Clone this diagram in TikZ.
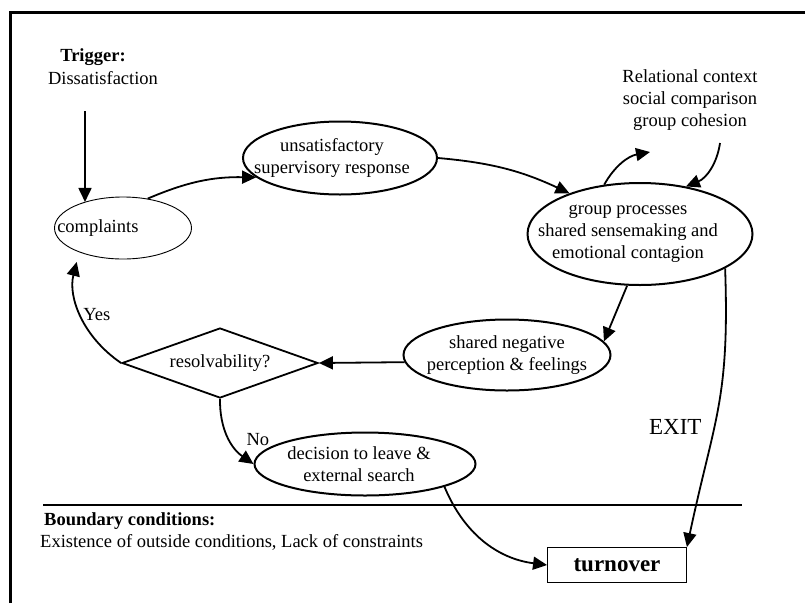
\documentclass[tikz,border=0pt]{standalone}
\usepackage{fontspec}
\setmainfont{Liberation Serif}
\usetikzlibrary{shapes.geometric,arrows.meta}

\tikzset{
  oval/.style={draw, ellipse, line width=2pt, inner sep=0pt},
  txt/.style={align=center, inner sep=1pt},
  flow/.style={-{Triangle[length=14pt,width=13pt]}, line width=1.8pt},
}

\begin{document}
\fontsize{18.5}{22}\selectfont
\begin{tikzpicture}[x=1pt,y=-1pt]
\useasboundingbox (0,0) rectangle (805,603);
\draw[line width=3pt] (10,603) -- (10,12) -- (805,12);

\node[font=\bfseries, inner sep=1pt] (trig) at (93,57) {Trigger:};
\node[inner sep=1pt] (dis) at (103,78) {Dissatisfaction};
\coordinate (trigfoot) at (85,111);

\node[oval, line width=0.9pt, minimum width=137pt, minimum height=62pt,
  label={[txt, anchor=west, inner sep=3pt]west:complaints}] (cmp) at (123,228) {};
\node[oval, minimum width=194pt, minimum height=73pt,
  label={[txt, xshift=-8pt]center:unsatisfactory\\supervisory response}] (unsat) at (340,158) {};

\node[txt] (rel) at (690,100) {Relational context\\social comparison\\group cohesion};
\coordinate (relin) at (650,152);
\coordinate (relout) at (720,143);

\node[oval, minimum width=225pt, minimum height=102pt,
  label={[txt, xshift=-12pt]center:group processes\\shared sensemaking and\\emotional contagion}] (grp) at (640,234) {};
\node[oval, minimum width=207pt, minimum height=71pt,
  label={[txt]center:shared negative\\perception \& feelings}] (neg) at (507,355) {};
\node[draw, diamond, line width=1.8pt, inner sep=0pt, minimum width=196pt, minimum height=70pt,
  label={[txt]center:resolvability?}] (res) at (220,363) {};
\node[oval, minimum width=221pt, minimum height=63pt,
  label={[txt, xshift=-6pt]center:decision to leave \&\\external search}] (dec) at (365,464) {};
\node[draw, line width=0.9pt, minimum width=139pt, minimum height=35pt,
  font=\bfseries\fontsize{23}{26}\selectfont] (turn) at (617,565) {turnover};

\draw[line width=1.4pt] (43,505) -- (742,505);
\node[font=\bfseries, anchor=west, inner sep=1pt] (bnd) at (43,521) {Boundary conditions:};
\node[anchor=west, inner sep=1pt] (ext) at (39,542) {Existence of outside conditions, Lack of constraints};

\draw[flow] (trigfoot) -- (trigfoot |- cmp.146);
\draw[flow] (cmp.50) to[bend left=12] (unsat.193);
\draw[flow] (unsat.east) to[bend left=10] (grp.150);
\draw[flow] (grp.126) to[bend left=25] (relin);
\draw[flow] (relout) to[bend left=30] (grp.46);
\draw[flow] (grp.256) -- (neg.8);
\draw[flow] (neg.184) -- (res.east);
\draw[flow, shorten >=10pt] (res.west) to[bend left=35] node[pos=0.5, right, inner sep=1pt] {Yes} (cmp.209);
\draw[flow] (res.south) to[bend right=28] node[pos=0.55, right=10pt] {No} (dec.west);
\draw[flow] (dec.344) to[bend right=30] (turn.west);
\draw[flow] (grp.338) to[out=-88, in=78, looseness=1.2] node[pos=0.58, left=6pt, font=\fontsize{23}{26}\selectfont] {EXIT} (turn.north east);
\end{tikzpicture}
\end{document}
